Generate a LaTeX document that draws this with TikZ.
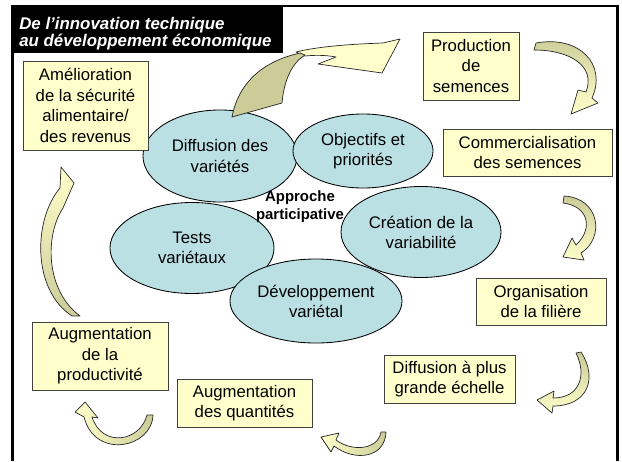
\documentclass[tikz,border=0pt]{standalone}
\usepackage{fontspec}
\setmainfont{Liberation Sans}
\usetikzlibrary{shapes.geometric}
\definecolor{paille}{HTML}{FFFFCC}
\definecolor{kaki}{HTML}{CCCC99}
\definecolor{lagon}{HTML}{BBE0E4}
\tikzset{
    %Define style for boxes
    boite/.style={
           rectangle,
           fill=paille,
           draw=black!75, line width=0.6pt,
           inner sep=0pt,
           align=center,
           font=\fontsize{11.9}{14.6}\selectfont},
    %Define style for ellipses
    bulle/.style={
           ellipse,
           fill=lagon,
           draw=black, line width=0.6pt,
           inner sep=0pt,
           align=center,
           font=\fontsize{11.9}{14.3}\selectfont},
    % Define style for block arrows
    fleche/.style={
           draw=black!85,
           line width=0.5pt,
           line join=round}
}

\begin{document}
\begin{tikzpicture}[x=0.025cm,y=-0.025cm]
\useasboundingbox (0,0) rectangle (622,461);

 %frame and title
\draw[line width=1.8pt] (12.5,461) -- (12.5,6) -- (617.5,6) -- (617.5,461);
\fill[black] (12,6) rectangle (283,53);
\node[anchor=north west, inner sep=0pt, align=left, text=white,
      font=\fontsize{12}{12.6}\selectfont\bfseries\itshape] (titre) at (19,16.5)
      {De l’innovation technique\\au développement économique};

 %ellipses
\node[bulle, minimum width=3.85cm, minimum height=2.3cm] (diff) at (220,156) {Diffusion des\\variétés};
\node[bulle, minimum width=3.5cm, minimum height=1.85cm] (obj) at (363,151) {Objectifs et\\priorités};
\node[bulle, minimum width=4cm, minimum height=2.275cm] (crea) at (421,232) {Création de la\\variabilité};
\node[bulle, minimum width=4.1cm, minimum height=2.275cm] (tests) at (192,248) {Tests\\variétaux};
\node[bulle, minimum width=4.3cm, minimum height=2.1cm] (dev) at (316,301) {Développement\\variétal};
\node[inner sep=0pt, align=center, font=\fontsize{10.6}{12.8}\selectfont\bfseries] (appr) at (300,207)
    {Approche\\participative};

 %big arrow out of the cycle
\draw[fleche, fill=paille] (296,52) .. controls (320,46) and (355,44) .. (383,43) -- (400,39)
    -- (382,73) -- (318,64) -- (336,57) .. controls (325,55) and (315,55) .. (305,56) -- cycle;
\draw[fleche, fill=kaki] (232,117) .. controls (238,85) and (260,62) .. (300,53)
    -- (305,55) .. controls (292,63) and (284,80) .. (282,103) -- cycle;

 %boxes
\node[boite, minimum width=3.125cm, minimum height=2.225cm] (amelio) at (85.5,105.5)
    {Amélioration\\de la sécurité\\alimentaire/\\des revenus};
\node[boite, minimum width=2.4cm, minimum height=1.7cm] (prod) at (471,66) {Production\\de\\semences};
\node[boite, minimum width=4.225cm, minimum height=1.175cm] (comm) at (527.5,152.5) {Commercialisation\\des semences};
\node[boite, minimum width=3.25cm, minimum height=1.175cm] (orga) at (541,301.5) {Organisation\\de la filière};
\node[boite, minimum width=3.275cm, minimum height=1.2cm] (echelle) at (449.5,379) {Diffusion à plus\\grande échelle};
\node[boite, minimum width=3.375cm, minimum height=1.2cm] (quant) at (244.5,403) {Augmentation\\des quantités};
\node[boite, minimum width=3.4cm, minimum height=1.7cm] (produc) at (100,356) {Augmentation\\de la\\productivité};

 %curved arrows
\draw[fleche, top color=kaki, bottom color=paille] (536,43) .. controls (580,35) and (607,65) .. (592,98)
    -- (598,103) -- (571,114) -- (578,90) -- (586,92) .. controls (596,66) and (570,50) .. (534,50) -- cycle;
\draw[fleche, top color=kaki, bottom color=paille] (564,196) .. controls (600,198) and (605,238) .. (581,253)
    -- (584,260) -- (563,257) -- (572,238) -- (576,245) .. controls (594,228) and (588,206) .. (563,203) -- cycle;
\draw[fleche, top color=kaki, bottom color=paille] (581,352) .. controls (598,378) and (588,406) .. (553,406)
    -- (552,413) -- (537,400) -- (554,391) -- (553,398) .. controls (580,398) and (587,375) .. (576,353) -- cycle;
\draw[fleche, left color=paille, right color=kaki] (386,432) .. controls (385,458) and (355,462) .. (334,446)
    -- (331,452) -- (321,437) -- (339,433) -- (336,440) .. controls (352,452) and (378,450) .. (381,432) -- cycle;
\draw[fleche, left color=paille, right color=kaki] (153,415) .. controls (152,448) and (95,460) .. (84,417)
    -- (75,412) -- (85,402) -- (98,418) -- (92,417) .. controls (102,448) and (140,442) .. (147,415) -- cycle;
\draw[fleche, top color=paille, bottom color=kaki] (72,316) .. controls (32,290) and (33,220) .. (60,188)
    -- (61,167) -- (74,183) -- (63,208) .. controls (45,235) and (45,290) .. (80,316) -- cycle;

\end{tikzpicture}
\end{document}
